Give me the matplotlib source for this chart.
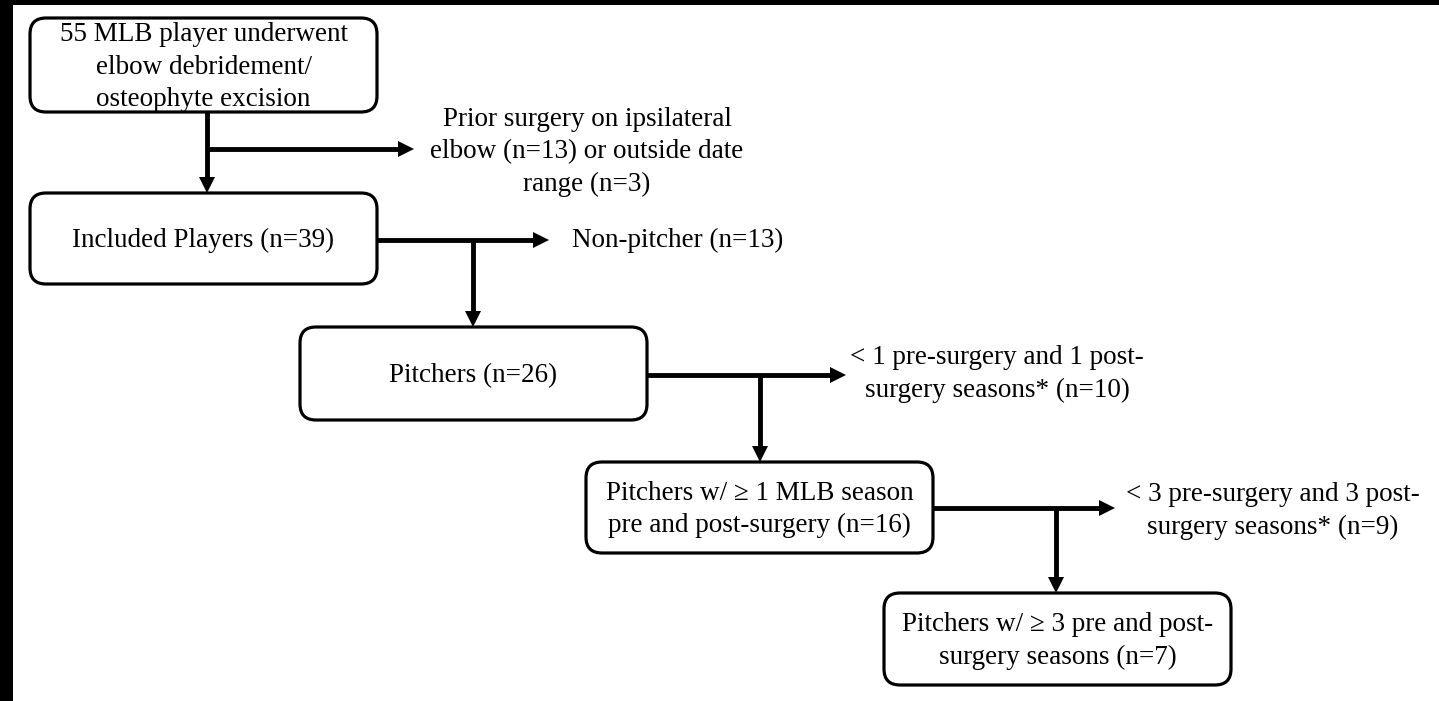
import matplotlib
matplotlib.use("Agg")
import matplotlib.pyplot as plt
from matplotlib.patches import FancyBboxPatch, Rectangle, Polygon

# ---- content ----
box_texts = [
    "55 MLB player underwent\nelbow debridement/\nosteophyte excision",
    "Included Players (n=39)",
    "Pitchers (n=26)",
    "Pitchers w/ \u2265 1 MLB season\npre and post-surgery (n=16)",
    "Pitchers w/ \u2265 3 pre and post-\nsurgery seasons (n=7)",
]
exclusion_texts = [
    "Prior surgery on ipsilateral\nelbow (n=13) or outside date\nrange (n=3)",
    "Non-pitcher (n=13)",
    "< 1 pre-surgery and 1 post-\nsurgery seasons* (n=10)",
    "< 3 pre-surgery and 3 post-\nsurgery seasons* (n=9)",
]

# ---- layout (pixel coordinates, y downward) ----
W, H = 1439, 701
boxes = [  # x0, y0, x1, y1
    (30, 18, 377, 112),
    (30, 193, 377, 284),
    (300, 327, 647, 420),
    (586, 462, 933, 553),
    (884, 593, 1231, 685),
]
FONT = "Liberation Serif"
FS = 19.5
LS = 1.38

fig = plt.figure(figsize=(W / 100, H / 100), dpi=100)
ax = fig.add_axes([0, 0, 1, 1])
ax.set_xlim(0, W)
ax.set_ylim(H, 0)
ax.axis("off")

# black frame bands of the screenshot
ax.add_patch(Rectangle((0, 0), 13, H, color="black", lw=0))
ax.add_patch(Rectangle((0, 0), W, 5, color="black", lw=0))

for (x0, y0, x1, y1), t in zip(boxes, box_texts):
    ax.add_patch(FancyBboxPatch((x0, y0), x1 - x0, y1 - y0,
                                boxstyle="round,pad=0,rounding_size=16",
                                fc="white", ec="black", lw=2.3, zorder=2))
    ax.text((x0 + x1) / 2, (y0 + y1) / 2 + 2, t, ha="center", va="center",
            fontsize=FS, family=FONT, linespacing=LS, zorder=3)

LW = 3.5
HL, HW = 16, 8  # arrow head length / half width (pixels)

def arrow(p0, p1):
    (x0, y0), (x1, y1) = p0, p1
    dx, dy = x1 - x0, y1 - y0
    n = (dx * dx + dy * dy) ** 0.5
    ux, uy = dx / n, dy / n
    bx, by = x1 - ux * HL, y1 - uy * HL
    ax.plot([x0, bx + ux * 2], [y0, by + uy * 2], color="black", lw=LW,
            solid_capstyle="butt", zorder=1)
    ax.add_patch(Polygon([(x1, y1), (bx - uy * HW, by + ux * HW),
                          (bx + uy * HW, by - ux * HW)],
                         closed=True, fc="black", ec="none", zorder=1))

# step 1: vertical from box1 to box2 with side branch
arrow((207, 112), (207, 193))
arrow((206, 149), (414, 149))
# step 2
arrow((377, 240), (549, 240))
arrow((473, 240), (473, 327))
# step 3
arrow((647, 375), (846, 375))
arrow((760, 375), (760, 462))
# step 4
arrow((933, 508), (1115, 508))
arrow((1056, 508), (1056, 593))

# exclusion texts
ex_pos = [(587, 152, "center"), (572, 240, "left"), (997, 374, "center"), (1273, 511, "center")]
for (x, y, ha), t in zip(ex_pos, exclusion_texts):
    ax.text(x, y, t, ha=ha, va="center", fontsize=FS, family=FONT,
            linespacing=LS, multialignment="center")

fig.savefig("out.png", dpi=100)
